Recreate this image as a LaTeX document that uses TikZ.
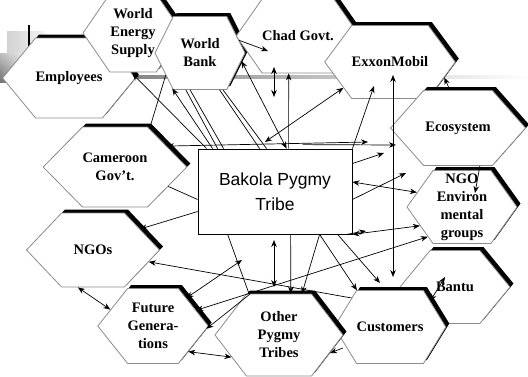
\documentclass[tikz,border=0pt]{standalone}
\usepackage{fontspec}
\setmainfont{Liberation Serif}
\newfontfamily\arialfont{Liberation Sans}
\usetikzlibrary{shapes.symbols,shadows,shadings,arrows.meta}

\tikzset{
  hexa/.style={signal, signal to=east and west, draw=black!45, line width=0.8pt,
    fill=white, inner sep=0pt, align=center,
    font=\fontsize{14.5}{18}\selectfont\bfseries,
    drop shadow={shadow xshift=3.5pt, shadow yshift=3.5pt, fill=black, opacity=1}},
  link/.style={line width=0.7pt, -{Stealth[length=7pt,width=5.5pt]}},
  twoway/.style={line width=0.7pt, {Stealth[length=7pt,width=5.5pt]}-{Stealth[length=7pt,width=5.5pt]}},
  plain/.style={line width=0.7pt},
}

\begin{document}
\begin{tikzpicture}[x=1pt,y=-1pt]
    \useasboundingbox (0,0) rectangle (528,376);
    % template bits
    \shade[left color=black!60, right color=white] (30,75.5) rectangle (528,78.5);
    \shade[left color=black!18, right color=black!4] (7,31) rectangle (45,53);
    \shade[lower left=black!55, upper right=black!5, upper left=black!25, lower right=black!25] (0,53) rectangle (28,82);
    \draw[line width=2.5pt] (29,25) -- (29,56);

    % hexagons
    \node[hexa, minimum width=118pt, minimum height=80pt, signal pointer angle=101] (emp) at (69,78) {Employees};
    \node[hexa, minimum width=100pt, minimum height=78pt, signal pointer angle=111] (wes) at (133,33) {World\\Energy\\Supply};
    \node[hexa, minimum width=90pt, minimum height=73pt, signal pointer angle=127] (wb) at (200,53) {World\\Bank};
    \node[hexa, minimum width=96pt, minimum height=74pt, signal pointer angle=110] (chad) at (298,36) {Chad Govt.};
    \node[hexa, minimum width=107pt, minimum height=73pt, signal pointer angle=107] (exxon) at (390,62) {ExxonMobil};
    \node[hexa, minimum width=135pt, minimum height=75pt, signal pointer angle=97] (eco) at (458,128) {Ecosystem};
    \node[hexa, minimum width=110pt, minimum height=73pt, signal pointer angle=109] (ngoenv) at (462,207) {NGO\\Environ\\mental\\groups};
    \node[hexa, minimum width=110pt, minimum height=73pt, signal pointer angle=101] (bantu) at (455,287) {Bantu};
    \node[hexa, minimum width=98pt, minimum height=73pt, signal pointer angle=117] (cust) at (390,327) {Customers};
    \node[hexa, minimum width=128pt, minimum height=82pt, signal pointer angle=105] (other) at (279,335) {Other\\Pygmy\\Tribes};
    \node[hexa, minimum width=110pt, minimum height=75pt, signal pointer angle=103] (future) at (153,326) {Future\\Genera-\\tions};
    \node[hexa, minimum width=133pt, minimum height=74pt, signal pointer angle=93] (ngos) at (93,250) {NGOs};
    \node[hexa, minimum width=143pt, minimum height=80pt, signal pointer angle=91] (cam) at (115,167) {Cameroon\\Gov’t.};

    % centre
    \node[draw, line width=0.8pt, fill=white, minimum width=154pt, minimum height=85pt,
          align=center, font=\arialfont\fontsize{17.5}{25}\selectfont] (box) at (275,191.5) {Bakola Pygmy\\Tribe};

    % free ends
    \coordinate (hA) at (368,142);
    \coordinate (hB) at (396,145);
    \coordinate (vT) at (393,75);
    \coordinate (vB) at (393,277);
    \coordinate (dT) at (274,67);
    \coordinate (dB) at (274,97);
    \coordinate (hF) at (265,142);
    \coordinate (xT) at (374,86);
    \coordinate (qT) at (242,260);
    \coordinate (uT) at (406,173);
    \coordinate (vR) at (384,153);
    \coordinate (wR) at (366,231);
    \coordinate (oT) at (274,240);
    \coordinate (oB) at (274,287);
    \coordinate (cT) at (380,283);
    \coordinate (bT) at (445,277);
    \coordinate (zA) at (343,348);
    \coordinate (zB) at (330,353);
    \coordinate (eB) at (475,193);
    \coordinate (cN) at (268,51);
    \coordinate (sS) at (250,294);

    % lines
    \draw[twoway] (cam.22) -- (hA);
    \draw[link] ([xshift=105pt,yshift=4pt]box.north west) -- (hB);
    \draw[twoway] (vT) -- (vB);
    \draw[link] ([xshift=91pt]box.north west) -- (chad.256);
    \draw[twoway] (dT) -- (dB);
    \draw[twoway] (hF) -- (exxon.209);
    \draw[link] (box.north east) -- (xT);
    \draw[twoway] (wb.-11) -- ([xshift=89pt]box.north west);
    \draw[link] ([xshift=9pt]box.north west) -- (emp.4);
    \draw[link] ([xshift=15pt]box.north west) -- (wb.232);
    \draw[plain] ([xshift=20pt]box.north west) -- (wb.249);
    \draw[plain] ([xshift=26pt]box.north west) -- (wb.255);
    \draw[plain] ([xshift=62pt]box.north west) -- (wb.-62);
    \draw[plain] ([xshift=69pt]box.north west) -- (wb.-58);
    \draw[plain] (wb.213) -- (cam.48);
    \draw[link] ([yshift=-20pt]box.west) -- (ngos.24);
    \draw[plain] (cam.-20) -- ([yshift=-8pt]box.west);
    \draw[plain] ([xshift=30pt]box.south west) -- (other.126);
    \draw[twoway] (oT) -- (oB);
    \draw[link] (cust.143) -- (ngos.-12);
    \draw[twoway] (future.40) -- (qT);
    \draw[twoway] (future.20) -- (ngoenv.221);
    \draw[link] (sS) -- (future.-3);
    \draw[twoway] ([yshift=9.5pt]box.east) -- (ngoenv.162);
    \draw[link] ([yshift=-8pt]box.east) -- (uT);
    \draw[link] ([yshift=28pt]box.east) -- (vR);
    \draw[twoway] (box.south east) -- (ngoenv.204);
    \draw[link] ([xshift=-6pt]box.south east) -- (wR);
    \draw[link] ([xshift=93pt]box.south west) -- (other.74);
    \draw[link] ([xshift=122pt]box.south west) -- (other.61);
    \draw[link] ([xshift=122pt]box.south west) -- (cust.132);
    \draw[link] ([xshift=140pt]box.south west) -- (cT);
    \draw[twoway] (cust.33) -- (bT);
    \draw[link] (zA) -- (zB);
    \draw[twoway] (ngos.248) -- (future.159);
    \draw[twoway] (future.-36) -- (other.205);
    \draw[link] (eco.-60) -- (eB);
    \draw[link] (eco.102) -- (exxon.-16);
    \draw[link] (wb.18) -- (cN);
\end{tikzpicture}
\end{document}
